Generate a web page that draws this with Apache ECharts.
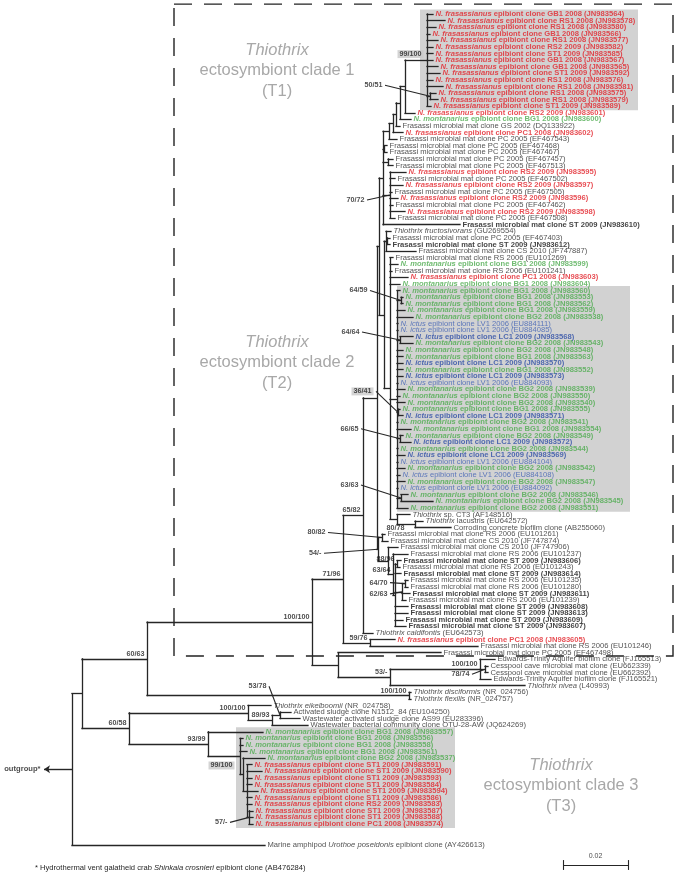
<!DOCTYPE html>
<html>
<head>
<meta charset="utf-8">
<script src="https://cdn.jsdelivr.net/npm/echarts@6/dist/echarts.min.js"></script>
<style>
html,body{margin:0;padding:0;background:#fff;}
#chart{width:677px;height:876px;}
</style>
</head>
<body>
<div id="chart"></div>
<script>
// ================= DATA =================
// Leaf labels in drawing order (text between * is italic)
const leafLabels = [
"*N. frasassianus* epibiont clone GB1 2008 (JN983564)",
"*N. frasassianus* epibiont clone RS1 2008 (JN983578)",
"*N. frasassianus* epibiont clone RS1 2008 (JN983580)",
"*N. frasassianus* epibiont clone GB1 2008 (JN983566)",
"*N. frasassianus* epibiont clone RS1 2008 (JN983577)",
"*N. frasassianus* epibiont clone RS2 2009 (JN983582)",
"*N. frasassianus* epibiont clone ST1 2009 (JN983585)",
"*N. frasassianus* epibiont clone GB1 2008 (JN983567)",
"*N. frasassianus* epibiont clone GB1 2008 (JN983565)",
"*N. frasassianus* epibiont clone ST1 2009 (JN983592)",
"*N. frasassianus* epibiont clone RS1 2008 (JN983576)",
"*N. frasassianus* epibiont clone RS1 2008 (JN983581)",
"*N. frasassianus* epibiont clone RS1 2008 (JN983575)",
"*N. frasassianus* epibiont clone RS1 2008 (JN983579)",
"*N. frasassianus* epibiont clone ST1 2009 (JN983589)",
"*N. frasassianus* epibiont clone RS2 2009 (JN983601)",
"*N. montanarius* epibiont clone BG1 2008 (JN983600)",
"Frasassi microbial mat clone GS 2002 (DQ133922)",
"*N. frasassianus* epibiont clone PC1 2008 (JN983602)",
"Frasassi microbial mat clone PC 2005 (EF467543)",
"Frasassi microbial mat clone PC 2005 (EF467468)",
"Frasassi microbial mat clone PC 2005 (EF467467)",
"Frasassi microbial mat clone PC 2005 (EF467457)",
"Frasassi microbial mat clone PC 2005 (EF467513)",
"*N. frasassianus* epibiont clone RS2 2009 (JN983595)",
"Frasassi microbial mat clone PC 2005 (EF467502)",
"*N. frasassianus* epibiont clone RS2 2009 (JN983597)",
"Frasassi microbial mat clone PC 2005 (EF467505)",
"*N. frasassianus* epibiont clone RS2 2009 (JN983596)",
"Frasassi microbial mat clone PC 2005 (EF467462)",
"*N. frasassianus* epibiont clone RS2 2009 (JN983598)",
"Frasassi microbial mat clone PC 2005 (EF467508)",
"Frasassi microbial mat clone ST 2009 (JN983610)",
"*Thiothrix fructosivorans* (GU269554)",
"Frasassi microbial mat clone PC 2005 (EF467403)",
"Frasassi microbial mat clone ST 2009 (JN983612)",
"Frasassi microbial mat clone CS 2010 (JF747887)",
"Frasassi microbial mat clone RS 2006 (EU101269)",
"*N. montanarius* epibiont clone BG1 2008 (JN983599)",
"Frasassi microbial mat clone RS 2006 (EU101241)",
"*N. frasassianus* epibiont clone PC1 2008 (JN983603)",
"*N. montanarius* epibiont clone BG1 2008 (JN983604)",
"*N. montanarius* epibiont clone BG1 2008 (JN983560)",
"*N. montanarius* epibiont clone BG1 2008 (JN983553)",
"*N. montanarius* epibiont clone BG1 2008 (JN983562)",
"*N. montanarius* epibiont clone BG1 2008 (JN983559)",
"*N. montanarius* epibiont clone BG2 2008 (JN983538)",
"*N. ictus* epibiont clone LV1 2006 (EU884111)",
"*N. ictus* epibiont clone LV1 2006 (EU884085)",
"*N. ictus* epibiont clone LC1 2009 (JN983568)",
"*N. montanarius* epibiont clone BG2 2008 (JN983543)",
"*N. montanarius* epibiont clone BG2 2008 (JN983548)",
"*N. montanarius* epibiont clone BG1 2008 (JN983563)",
"*N. ictus* epibiont clone LC1 2009 (JN983570)",
"*N. montanarius* epibiont clone BG1 2008 (JN983552)",
"*N. ictus* epibiont clone LC1 2009 (JN983573)",
"*N. ictus* epibiont clone LV1 2006 (EU884093)",
"*N. montanarius* epibiont clone BG2 2008 (JN983539)",
"*N. montanarius* epibiont clone BG2 2008 (JN983550)",
"*N. montanarius* epibiont clone BG2 2008 (JN983540)",
"*N. montanarius* epibiont clone BG1 2008 (JN983555)",
"*N. ictus* epibiont clone LC1 2009 (JN983571)",
"*N. montanarius* epibiont clone BG2 2008 (JN983541)",
"*N. montanarius* epibiont clone BG1 2008 (JN983554)",
"*N. montanarius* epibiont clone BG2 2008 (JN983549)",
"*N. ictus* epibiont clone LC1 2009 (JN983572)",
"*N. montanarius* epibiont clone BG2 2008 (JN983544)",
"*N. ictus* epibiont clone LC1 2009 (JN983569)",
"*N. ictus* epibiont clone LV1 2006 (EU884104)",
"*N. montanarius* epibiont clone BG2 2008 (JN983542)",
"*N. ictus* epibiont clone LV1 2006 (EU884108)",
"*N. montanarius* epibiont clone BG2 2008 (JN983547)",
"*N. ictus* epibiont clone LV1 2006 (EU884092)",
"*N. montanarius* epibiont clone BG2 2008 (JN983546)",
"*N. montanarius* epibiont clone BG2 2008 (JN983545)",
"*N. montanarius* epibiont clone BG2 2008 (JN983551)",
"*Thiothrix* sp. CT3 (AF148516)",
"*Thiothrix* lacustris (EU642572)",
"Corroding concrete biofilm clone (AB255060)",
"Frasassi microbial mat clone RS 2006 (EU101261)",
"Frasassi microbial mat clone CS 2010 (JF747874)",
"Frasassi microbial mat clone CS 2010 (JF747906)",
"Frasassi microbial mat clone RS 2006 (EU101237)",
"Frasassi microbial mat clone ST 2009 (JN983606)",
"Frasassi microbial mat clone RS 2006 (EU101243)",
"Frasassi microbial mat clone ST 2009 (JN983614)",
"Frasassi microbial mat clone RS 2006 (EU101235)",
"Frasassi microbial mat clone RS 2006 (EU101280)",
"Frasassi microbial mat clone ST 2009 (JN983611)",
"Frasassi microbial mat clone RS 2006 (EU101239)",
"Frasassi microbial mat clone ST 2009 (JN983608)",
"Frasassi microbial mat clone ST 2009 (JN983613)",
"Frasassi microbial mat clone ST 2009 (JN983609)",
"Frasassi microbial mat clone ST 2009 (JN983607)",
"*Thiothrix caldifontis* (EU642573)",
"*N. frasassianus* epibiont clone PC1 2008 (JN983605)",
"Frasassi microbial mat clone RS 2006 (EU101246)",
"Frasassi microbial mat clone PC 2005 (EF467498)",
"Edwards-Trinity Aquifer biofilm clone (FJ165513)",
"Cesspool cave microbial mat clone (EU662339)",
"Cesspool cave microbial mat clone (EU662392)",
"Edwards-Trinity Aquifer biofilm clone (FJ165521)",
"*Thiothrix nivea* (L40993)",
"*Thiothrix disciformis* (NR_024756)",
"*Thiothrix flexilis* (NR_024757)",
"*Thiothrix eikelboomii* (NR_024758)",
"Activated sludge clone N1512_84 (EU104250)",
"Wastewater activated sludge clone AS99 (EU283396)",
"Wastewater bacterial community clone OTU-28-AW (JQ624269)",
"*N. montanarius* epibiont clone BG1 2008 (JN983557)",
"*N. montanarius* epibiont clone BG1 2008 (JN983556)",
"*N. montanarius* epibiont clone BG1 2008 (JN983558)",
"*N. montanarius* epibiont clone BG1 2008 (JN983561)",
"*N. montanarius* epibiont clone BG2 2008 (JN983537)",
"*N. frasassianus* epibiont clone ST1 2009 (JN983591)",
"*N. frasassianus* epibiont clone ST1 2009 (JN983590)",
"*N. frasassianus* epibiont clone ST1 2009 (JN983593)",
"*N. frasassianus* epibiont clone ST1 2009 (JN983584)",
"*N. frasassianus* epibiont clone ST1 2009 (JN983594)",
"*N. frasassianus* epibiont clone ST1 2009 (JN983586)",
"*N. frasassianus* epibiont clone RS2 2009 (JN983583)",
"*N. frasassianus* epibiont clone ST1 2009 (JN983587)",
"*N. frasassianus* epibiont clone ST1 2009 (JN983588)",
"*N. frasassianus* epibiont clone PC1 2008 (JN983574)",
"Marine amphipod *Urothoe poseidonis* epibiont clone (AY426613)"
];

// Label group: F = N. frasassianus, M = N. montanarius, I = N. ictus LV1, J = N. ictus LC1,
// B = Frasassi ST 2009 (this study), N = other sequences
const leafGroup = [
"F","F","F","F","F","F","F","F","F","F","F","F","F","F","F",
"F","M","N","F","N","N","N","N","N","F","N","F","N","F","N","F","N","B",
"N","N","B","N","N","M","N","F","M",
"M","M","M","M","M","I","I","J","M","M","M","J","M","J","I","M","M","M","M","J","M","M","M","J","M","J","I","M","I","M","I","M","M","M",
"N","N","N",
"N","N","N","N","B","N","B","N","N","B","N","B","B","B","B",
"N","F","N","N","N","N","N","N","N","N","N","N","N","N","N",
"M","M","M","M","M","F","F","F","F","F","F","F","F","F","F","N"
];

// Tip depth of each leaf (distance from root; 65 units = 0.02 substitutions/site)
const leafDepth = [
361,373,364,358,366,361,361,361,366,368,361,371,364,366,359,
343,339,328,331,325,315,315,321,321,334,323,331,320,326,321,333,323,388,
319,318,318,344,321,326,320,336,328,
328,331,331,333,341,326,326,341,341,331,331,331,331,331,326,333,328,333,328,331,326,339,331,339,326,333,326,333,328,333,326,336,361,336,
338,351,379,
313,316,326,336,329,328,329,336,336,338,334,336,336,331,334,
301,323,406,369,423,416,416,419,453,339,339,199,219,228,236,
191,171,171,175,193,180,190,180,180,186,180,180,181,181,181,193
];

// Internal nodes: [first leaf, last leaf, node depth, bootstrap support]
const clades = [
[1,125,0,""],[1,124,10,""],[1,105,75,"60/63"],[1,103,240,"100/100"],[1,97,271,"71/96"],
[1,95,291,"65/82"],[1,94,305,""],[1,79,307,""],[1,33,311,""],[1,20,317,""],[1,19,321,""],
[1,18,324,""],[1,17,328,""],[1,16,333,""],[1,15,355,"99/100"],[13,14,358,"50/51"],
[21,22,312,""],[23,24,316,""],[25,32,318,"70/72"],[34,79,312,""],[34,37,314,""],[35,36,315,""],
[38,79,318,""],
[43,76,325,""],[44,45,329,"64/59"],[50,51,328,"64/64"],[61,62,326,"36/41"],[65,66,328,"66/65"],
[74,75,329,"63/63"],[77,79,325,""],[78,79,343,"80/78"],[80,94,306,"54/-"],[80,81,310,"80/82"],
[82,94,316,""],[83,94,321,"63/64"],[84,94,323,""],[84,85,325,"88/96"],[87,90,330,"62/63"],
[87,88,333,"64/70"],[96,97,298,"59/76"],[98,103,266,""],[99,103,318,"53/-"],[99,102,408,"100/100"],
[100,101,413,"78/74"],[104,105,337,"100/100"],[106,124,57,"60/58"],[106,109,176,"100/100"],
[107,109,200,"89/93"],[107,108,208,"53/78"],[110,124,136,"93/99"],[111,124,168,"99/100"],
[114,124,171,""],[115,124,175,""],[122,124,177,"57/-"]
];

// Extra vertical space (in rows) inserted before a leaf (1-based)
const extraRowsBefore = {125: 2.2};

// Scale bar
const scaleBarText = "0.02";
const scaleBarUnits = 65;

// Clade annotation texts
const cladeNames = [
  ["Thiothrix","ectosymbiont clade 1","(T1)"],
  ["Thiothrix","ectosymbiont clade 2","(T2)"],
  ["Thiothrix","ectosymbiont clade 3","(T3)"]
];

// ================= LAYOUT / STYLE =================
const W = 677, H = 876, ROOT_PX = 72, FIRST_ROW_PX = 14, ROWPX = 6.585;
const FONT = "'Liberation Sans', Arial, Helvetica, sans-serif";
const LINE = '#262626';

const N = leafLabels.length;
const rows = [];
{ let add = 0; for (let i = 0; i < N; i++) { add += extraRowsBefore[i + 1] || 0; rows.push(i + add); } }

const nodes = clades.map(c => ({first: c[0] - 1, last: c[1] - 1, x: c[2], sup: c[3], kids: []}));
nodes.forEach(n => {
  let best = null;
  nodes.forEach(m => {
    if (m === n) return;
    if (m.first <= n.first && m.last >= n.last && (m.last - m.first) > (n.last - n.first)) {
      if (!best || (m.last - m.first) < (best.last - best.first)) best = m;
    }
  });
  n.parent = best;
  if (best) best.kids.push(n);
});
nodes.forEach(n => {
  const items = [], covered = new Set();
  n.kids.forEach(c => { items.push({node: c, first: c.first}); for (let i = c.first; i <= c.last; i++) covered.add(i); });
  for (let i = n.first; i <= n.last; i++) if (!covered.has(i)) items.push({leaf: i, first: i});
  items.sort((a, b) => a.first - b.first);
  n.items = items;
});
function nodeY(n) {
  if (n.y === undefined) n.y = (itemY(n.items[0]) + itemY(n.items[n.items.length - 1])) / 2;
  return n.y;
}
function itemY(it) { return it.node ? nodeY(it.node) : rows[it.leaf]; }
function itemX(it) { return it.node ? it.node.x : leafDepth[it.leaf]; }

const segs = [];
nodes.forEach(n => {
  const f = n.items[0], l = n.items[n.items.length - 1];
  segs.push({coords: [[n.x, itemY(f)], [n.x, itemY(l)]]});
  n.items.forEach(it => segs.push({coords: [[n.x, itemY(it)], [itemX(it), itemY(it)]]}));
});
const root = nodes[0];

// Leaf label rich text
const groupStyle = {
  F: {color: '#e2232b', fontWeight: 'bold'},
  M: {color: '#4dab4f', fontWeight: 'bold'},
  I: {color: '#3d5fb4', fontWeight: 'normal'},
  J: {color: '#2d4ea6', fontWeight: 'bold'},
  B: {color: '#111111', fontWeight: 'bold'},
  N: {color: '#262626', fontWeight: 'normal'}
};
const rich = {};
Object.keys(groupStyle).forEach(k => {
  rich[k + 'n'] = Object.assign({fontSize: 7.6, fontFamily: FONT, fontStyle: 'normal', lineHeight: 8}, groupStyle[k]);
  rich[k + 'i'] = Object.assign({fontSize: 7.6, fontFamily: FONT, fontStyle: 'italic', lineHeight: 8}, groupStyle[k]);
});
function toRich(text, g) {
  return text.split('*').map((seg, k) => seg ? '{' + g + (k % 2 ? 'i' : 'n') + '|' + seg + '}' : '').join('');
}
const richLabels = leafLabels.map((t, i) => toRich(t, leafGroup[i]));

// Support label placement (px offsets from node, label right end / middle)
const supLayout = {
  '13-14': {dx: -47, dy: -11, ptr: true},
  '25-32': {dx: -25, dy: 5, ptr: true},
  '44-45': {dx: -33, dy: -10, ptr: true},
  '50-51': {dx: -40, dy: -8, ptr: true},
  '61-62': {dx: -24, dy: -21, ptr: true, box: true},
  '65-66': {dx: -41, dy: -10, ptr: true},
  '74-75': {dx: -42, dy: -13, ptr: true},
  '78-79': {dx: -10, dy: 4},
  '80-94': {dx: -56, dy: 4, ptr: true},
  '80-81': {dx: -56, dy: -5, ptr: true},
  '87-88': {dx: -17, dy: -1, ptr: true},
  '87-90': {dx: -14, dy: 2, ptr: true},
  '100-101': {dx: -15, dy: 5, ptr: true},
  '107-108': {dx: -13, dy: -29, ptr: true},
  '122-124': {dx: -21, dy: 5, ptr: true},
  '1-15': {dx: -3, dy: -6, box: true},
  '111-124': {dx: -5, dy: 9, box: true}
};
const supData = [], ptrSegs = [];
nodes.forEach(n => {
  if (!n.sup) return;
  const key = (n.first + 1) + '-' + (n.last + 1);
  const L = supLayout[key] || {dx: -2, dy: -5};
  const y = nodeY(n);
  const lx = n.x + L.dx, ly = y + L.dy / ROWPX;
  supData.push({
    value: [lx, ly], name: n.sup,
    label: L.box ? {backgroundColor: '#c9c9c9', padding: [1, 2, 0, 2]} : {}
  });
  if (L.ptr) ptrSegs.push({coords: [[lx + 2, ly], [n.x, y]]});
});

// Gray highlight boxes: [first leaf, last leaf, left depth, right depth]
const boxes = [[1, 15, 348, 566], [43, 76, 325, 558], [110, 124, 164, 383]];
const boxData = boxes.map(b => [b[2], rows[b[0] - 1] - 0.7, b[3], rows[b[1] - 1] + 0.6]);
// Dashed frame around T1 + T2 region
const frame = [[102, rows[0] - 1.5, 601, rows[97] + 0.5]];

// Scale bar position
const sbX = 491, sbRow = (865 - FIRST_ROW_PX) / ROWPX;
const sbSegs = [
  {coords: [[sbX, sbRow], [sbX + scaleBarUnits, sbRow]]},
  {coords: [[sbX, sbRow - 0.75], [sbX, sbRow + 0.75]]},
  {coords: [[sbX + scaleBarUnits, sbRow - 0.75], [sbX + scaleBarUnits, sbRow + 0.75]]}
];

const chart = echarts.init(document.getElementById('chart'), null, {renderer: 'canvas'});
const txt = (x, y, text, extra) => ({type: 'text', x: x, y: y, silent: true,
  style: Object.assign({text: text, fill: '#a8a8a8', fontSize: 16.5, fontFamily: FONT, align: 'center', verticalAlign: 'middle'}, extra || {})});
const cladePos = [[277, 50], [277, 342], [561, 765]];
const graphics = [];
cladeNames.forEach((c, i) => {
  const p = cladePos[i];
  graphics.push(txt(p[0], p[1], c[0], {fontStyle: 'italic'}));
  graphics.push(txt(p[0], p[1] + 20.5, c[1]));
  graphics.push(txt(p[0], p[1] + 41, c[2]));
});
graphics.push({type: 'text', x: 35, y: 868, silent: true, style: {
  text: '{n|* Hydrothermal vent galatheid crab }{i|Shinkaia crosnieri}{n| epibiont clone (AB476284)}',
  verticalAlign: 'middle', align: 'left',
  rich: {n: {fontSize: 7.6, fontFamily: FONT, fill: '#262626'}, i: {fontSize: 7.6, fontFamily: FONT, fontStyle: 'italic', fill: '#262626'}}
}});

const option = {
  animation: false,
  backgroundColor: '#ffffff',
  grid: {left: 0, right: 0, top: 0, bottom: 0},
  xAxis: {type: 'value', min: -ROOT_PX, max: W - ROOT_PX, show: false},
  yAxis: {type: 'value', inverse: true, min: -FIRST_ROW_PX / ROWPX, max: (H - FIRST_ROW_PX) / ROWPX, show: false},
  graphic: graphics,
  series: [
    {type: 'custom', z: 1, silent: true, data: boxData,
      renderItem: (p, api) => {
        const a = api.coord([api.value(0), api.value(1)]), b = api.coord([api.value(2), api.value(3)]);
        return {type: 'rect', shape: {x: a[0], y: a[1], width: b[0] - a[0], height: b[1] - a[1]}, style: {fill: '#d2d2d2'}};
      }},
    {type: 'custom', z: 2, silent: true, data: frame,
      renderItem: (p, api) => {
        const a = api.coord([api.value(0), api.value(1)]), b = api.coord([api.value(2), api.value(3)]);
        return {type: 'rect', shape: {x: a[0], y: a[1], width: b[0] - a[0], height: b[1] - a[1]},
          style: {fill: 'none', stroke: '#222', lineWidth: 1.4, lineDash: [18, 12]}};
      }},
    {type: 'lines', coordinateSystem: 'cartesian2d', z: 3, silent: true, data: segs,
      lineStyle: {color: LINE, width: 1.3, opacity: 1, cap: 'square'}},
    {type: 'lines', coordinateSystem: 'cartesian2d', z: 3, silent: true, data: ptrSegs.concat(sbSegs),
      lineStyle: {color: LINE, width: 1.1, opacity: 1}},
    {type: 'lines', coordinateSystem: 'cartesian2d', z: 3, silent: true,
      symbol: ['none', 'arrow'], symbolSize: 6,
      data: [{coords: [[root.x, nodeY(root)], [root.x - 28, nodeY(root)]]}],
      lineStyle: {color: LINE, width: 1.4, opacity: 1}},
    {type: 'scatter', z: 4, silent: true, symbolSize: 1, itemStyle: {color: 'rgba(0,0,0,0)'},
      data: leafDepth.map((d, i) => [d, rows[i]]),
      label: {show: true, position: 'right', distance: 2, formatter: p => richLabels[p.dataIndex], rich: rich}},
    {type: 'scatter', z: 5, silent: true, symbolSize: 1, itemStyle: {color: 'rgba(0,0,0,0)'},
      data: supData,
      label: {show: true, position: 'left', distance: 0, formatter: '{b}', color: '#1a1a1a',
        fontSize: 7.2, fontWeight: 'bold', fontFamily: FONT}},
    {type: 'scatter', z: 5, silent: true, symbolSize: 1, itemStyle: {color: 'rgba(0,0,0,0)'},
      data: [
        {value: [sbX + scaleBarUnits / 2, sbRow - 0.4], name: scaleBarText,
          label: {position: 'top', distance: 2, fontWeight: 'normal', fontSize: 7}},
        {value: [root.x - 31, nodeY(root)], name: 'outgroup*',
          label: {position: 'left', distance: 0, fontWeight: 'bold', fontSize: 7.6}}
      ],
      label: {show: true, formatter: '{b}', color: '#1a1a1a', fontFamily: FONT}}
  ]
};
chart.setOption(option);
</script>
</body>
</html>
